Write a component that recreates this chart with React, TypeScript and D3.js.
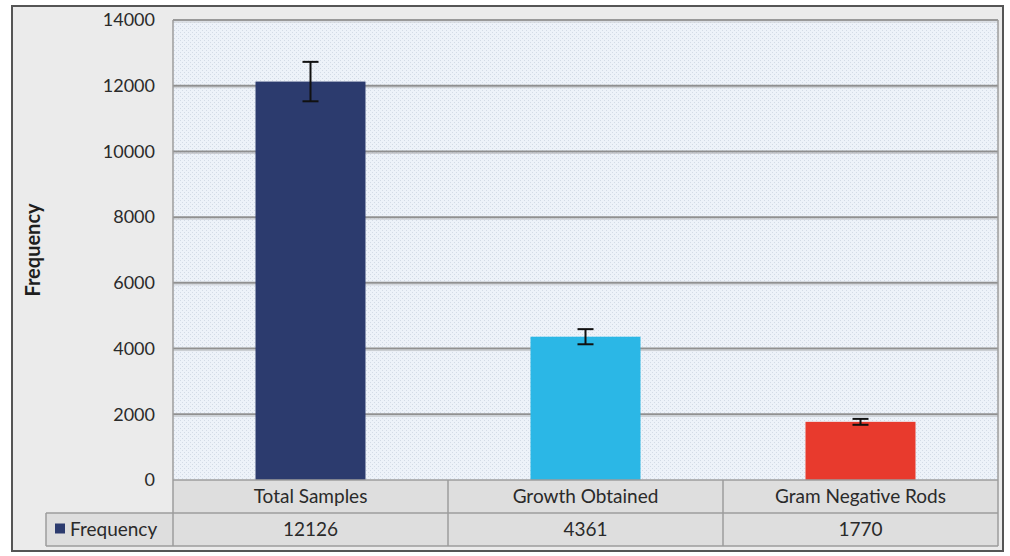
import { useEffect, useRef } from "react";
import * as d3 from "d3";

const categories = ["Total Samples", "Growth Obtained", "Gram Negative Rods"];
const frequency = [12126, 4361, 1770];
const errors = [600, 230, 90];
const barColors = ["#2c3b6e", "#2bb7e6", "#e83a2d"];
const yTicks = [0, 2000, 4000, 6000, 8000, 10000, 12000, 14000];
const seriesName = "Frequency";

export default function App() {
	const ref = useRef<SVGSVGElement>(null);

	useEffect(() => {
		const svg = d3.select(ref.current);
		svg.selectAll("*").remove();

		const W = 1010, H = 556;
		const plot = { left: 173, right: 998, top: 20, bottom: 480 };
		const rowH = 33;
		const font = "Lato, 'Open Sans', sans-serif";

		const defs = svg.append("defs");
		const pat = defs.append("pattern")
			.attr("id", "dots")
			.attr("width", 4)
			.attr("height", 4)
			.attr("patternUnits", "userSpaceOnUse");
		pat.append("rect").attr("width", 4).attr("height", 4).attr("fill", "#edf2f9");
		pat.append("rect").attr("x", 0).attr("y", 0).attr("width", 1).attr("height", 1).attr("fill", "#d3dbe6");
		pat.append("rect").attr("x", 2).attr("y", 2).attr("width", 1).attr("height", 1).attr("fill", "#d3dbe6");

		// Chart background + frame
		svg.append("rect")
			.attr("x", 0).attr("y", 0).attr("width", W).attr("height", H)
			.attr("fill", "#ffffff");
		svg.append("rect")
			.attr("x", 12).attr("y", 6).attr("width", 991).attr("height", 545)
			.attr("fill", "#ebebeb")
			.attr("stroke", "#555")
			.attr("stroke-width", 2);

		const x = d3.scaleBand<string>()
			.domain(categories)
			.range([plot.left, plot.right])
			.padding(0);

		const y = d3.scaleLinear()
			.domain([0, 14000])
			.range([plot.bottom, plot.top]);

		// Plot area
		svg.append("rect")
			.attr("x", plot.left).attr("y", plot.top)
			.attr("width", plot.right - plot.left)
			.attr("height", plot.bottom - plot.top)
			.attr("fill", "url(#dots)");

		// Gridlines
		const grid = svg.append("g");
		grid.selectAll("line.shadow")
			.data(yTicks.filter(t => t > 0))
			.enter()
			.append("line")
			.attr("class", "shadow")
			.attr("x1", plot.left).attr("x2", plot.right)
			.attr("y1", d => y(d) + 2).attr("y2", d => y(d) + 2)
			.attr("stroke", "#c9ccd0")
			.attr("stroke-width", 1);
		grid.selectAll("line.main")
			.data(yTicks.filter(t => t > 0))
			.enter()
			.append("line")
			.attr("class", "main")
			.attr("x1", plot.left).attr("x2", plot.right)
			.attr("y1", d => y(d)).attr("y2", d => y(d))
			.attr("stroke", "#909090")
			.attr("stroke-width", 2);

		// Y tick labels
		svg.append("g")
			.selectAll("text")
			.data(yTicks)
			.enter()
			.append("text")
			.attr("x", 155)
			.attr("y", d => y(d))
			.attr("dy", "0.35em")
			.attr("text-anchor", "end")
			.attr("font-family", font)
			.attr("font-size", 18)
			.attr("fill", "#2a2a2a")
			.text(d => d);

		// Y-axis title
		svg.append("text")
			.attr("transform", `translate(40, 250) rotate(-90)`)
			.attr("text-anchor", "middle")
			.attr("font-family", font)
			.attr("font-weight", "bold")
			.attr("font-size", 20)
			.attr("fill", "#1e1e1e")
			.text(seriesName);

		// Bars
		const barW = x.bandwidth() * 0.4;
		svg.append("g")
			.selectAll("rect")
			.data(categories)
			.enter()
			.append("rect")
			.attr("x", d => x(d)! + (x.bandwidth() - barW) / 2)
			.attr("y", (_, i) => y(frequency[i]))
			.attr("width", barW)
			.attr("height", (_, i) => plot.bottom - y(frequency[i]))
			.attr("fill", (_, i) => barColors[i]);

		// Error bars
		const eb = svg.append("g").attr("stroke", "#111").attr("stroke-width", 2);
		categories.forEach((c, i) => {
			const cx = x(c)! + x.bandwidth() / 2;
			const hi = y(frequency[i] + errors[i]);
			const lo = y(frequency[i] - errors[i]);
			eb.append("line").attr("x1", cx).attr("x2", cx).attr("y1", hi).attr("y2", lo);
			eb.append("line").attr("x1", cx - 8).attr("x2", cx + 8).attr("y1", hi).attr("y2", hi);
			eb.append("line").attr("x1", cx - 8).attr("x2", cx + 8).attr("y1", lo).attr("y2", lo);
		});

		// Data table
		const table = svg.append("g");
		table.append("rect")
			.attr("x", plot.left).attr("y", plot.bottom)
			.attr("width", plot.right - plot.left).attr("height", rowH * 2)
			.attr("fill", "#dedede");
		table.append("rect")
			.attr("x", 46).attr("y", plot.bottom + rowH)
			.attr("width", plot.left - 46).attr("height", rowH)
			.attr("fill", "#dedede");

		const lines: [number, number, number, number][] = [
			[plot.left, plot.bottom, plot.right, plot.bottom],
			[46, plot.bottom + rowH, plot.right, plot.bottom + rowH],
			[46, plot.bottom + rowH * 2, plot.right, plot.bottom + rowH * 2],
			[46, plot.bottom + rowH, 46, plot.bottom + rowH * 2],
			[plot.left, plot.bottom, plot.left, plot.bottom + rowH * 2],
			[plot.right, plot.top, plot.right, plot.bottom + rowH * 2],
			[plot.left, plot.top, plot.right, plot.top],
			[plot.left, plot.top, plot.left, plot.bottom]
		];
		categories.forEach(c => {
			const bx = x(c)! + x.bandwidth();
			if (bx < plot.right - 1) lines.push([bx, plot.bottom, bx, plot.bottom + rowH * 2]);
		});
		table.selectAll("line")
			.data(lines)
			.enter()
			.append("line")
			.attr("x1", d => d[0]).attr("y1", d => d[1])
			.attr("x2", d => d[2]).attr("y2", d => d[3])
			.attr("stroke", "#9c9c9c")
			.attr("stroke-width", 1.5);

		table.selectAll("text.cat")
			.data(categories)
			.enter()
			.append("text")
			.attr("class", "cat")
			.attr("x", d => x(d)! + x.bandwidth() / 2)
			.attr("y", plot.bottom + rowH / 2)
			.attr("dy", "0.35em")
			.attr("text-anchor", "middle")
			.attr("font-family", font)
			.attr("font-size", 19)
			.attr("fill", "#2a2a2a")
			.text(d => d);

		table.selectAll("text.val")
			.data(categories)
			.enter()
			.append("text")
			.attr("class", "val")
			.attr("x", d => x(d)! + x.bandwidth() / 2)
			.attr("y", plot.bottom + rowH * 1.5)
			.attr("dy", "0.35em")
			.attr("text-anchor", "middle")
			.attr("font-family", font)
			.attr("font-size", 19)
			.attr("fill", "#2a2a2a")
			.text((_, i) => frequency[i]);

		// Legend key + series name
		table.append("rect")
			.attr("x", 55).attr("y", plot.bottom + rowH * 1.5 - 6)
			.attr("width", 10).attr("height", 10)
			.attr("fill", barColors[0]);
		table.append("text")
			.attr("x", 70)
			.attr("y", plot.bottom + rowH * 1.5)
			.attr("dy", "0.35em")
			.attr("font-family", font)
			.attr("font-size", 19)
			.attr("fill", "#2a2a2a")
			.text(seriesName);
	}, []);

	return (
		<svg
			ref={ref}
			width={1010}
			height={556}
			style={{ position: "absolute", left: 0, top: 0, display: "block" }}
		/>
	);
}
